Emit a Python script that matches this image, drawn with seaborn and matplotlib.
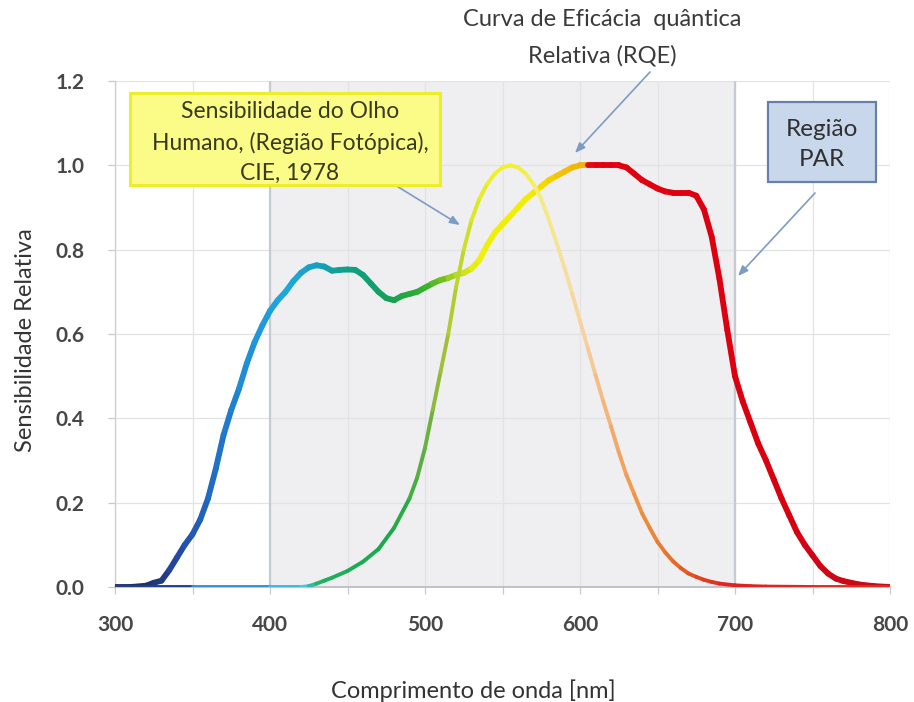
import numpy as np
import matplotlib
matplotlib.use("Agg")
import matplotlib.pyplot as plt
import seaborn as sns
from matplotlib.collections import LineCollection
from matplotlib.colors import LinearSegmentedColormap, Normalize
from matplotlib.patches import FancyBboxPatch

# --- data -----------------------------------------------------------------
# Relative quantum efficiency (RQE) of photosynthesis
rqe_nm = [300, 310, 320, 325, 330, 335, 340, 345, 350, 355, 360, 365, 370, 375,
          380, 385, 390, 395, 400, 405, 410, 415, 420, 425, 430, 435, 440, 445,
          450, 455, 460, 465, 470, 475, 480, 485, 490, 495, 500, 505, 510, 515,
          520, 525, 530, 535, 540, 545, 550, 555, 560, 565, 570, 575, 580, 585,
          590, 595, 600, 605, 610, 615, 620, 625, 630, 635, 640, 645, 650, 655,
          660, 665, 670, 675, 680, 685, 690, 695, 700, 705, 710, 715, 720, 725,
          730, 735, 740, 745, 750, 755, 760, 765, 770, 775, 780, 790, 800]
rqe_val = [0.0, 0.0, 0.003, 0.01, 0.015, 0.04, 0.07, 0.10, 0.125, 0.16, 0.21, 0.28,
           0.36, 0.42, 0.47, 0.53, 0.58, 0.62, 0.655, 0.68, 0.70, 0.725, 0.745,
           0.758, 0.763, 0.76, 0.75, 0.752, 0.753, 0.752, 0.74, 0.72, 0.70, 0.685,
           0.68, 0.69, 0.695, 0.70, 0.71, 0.72, 0.728, 0.733, 0.74, 0.745, 0.755,
           0.775, 0.81, 0.84, 0.86, 0.88, 0.90, 0.92, 0.935, 0.95, 0.965, 0.975,
           0.985, 0.995, 1.0, 1.0, 1.0, 1.0, 1.0, 1.0, 0.995, 0.98, 0.965, 0.955,
           0.945, 0.938, 0.935, 0.935, 0.935, 0.928, 0.895, 0.83, 0.73, 0.61, 0.50,
           0.44, 0.39, 0.34, 0.30, 0.255, 0.21, 0.17, 0.13, 0.10, 0.075, 0.05,
           0.032, 0.02, 0.014, 0.01, 0.006, 0.002, 0.0]

# Photopic sensitivity of the human eye (CIE 1978)
eye_nm = [300, 350, 400, 420, 425, 430, 435, 440, 450, 460, 470, 480, 490, 495,
          500, 505, 510, 515, 520, 525, 530, 535, 540, 545, 550, 555, 560, 565,
          570, 575, 580, 585, 590, 595, 600, 605, 610, 615, 620, 625, 630, 635,
          640, 645, 650, 655, 660, 665, 670, 675, 680, 685, 690, 700, 710, 720,
          750, 800]
eye_val = [0.0, 0.0, 0.0, 0.0, 0.002, 0.008, 0.015, 0.022, 0.038, 0.06, 0.09, 0.14,
           0.21, 0.26, 0.33, 0.42, 0.51, 0.60, 0.71, 0.80, 0.87, 0.92, 0.955, 0.98,
           0.995, 1.0, 0.995, 0.98, 0.955, 0.92, 0.87, 0.815, 0.757, 0.695, 0.631,
           0.567, 0.503, 0.44, 0.381, 0.32, 0.265, 0.22, 0.175, 0.14, 0.107, 0.082,
           0.061, 0.045, 0.032, 0.024, 0.017, 0.012, 0.008, 0.004, 0.002, 0.001,
           0.0, 0.0]

x_ticks = [300, 400, 500, 600, 700, 800]
y_ticks = [0.0, 0.2, 0.4, 0.6, 0.8, 1.0, 1.2]
par_range = (400, 700)

# --- colour ramps along the wavelength axis -------------------------------
rqe_stops = [(300, "#1a2a55"), (325, "#1e3570"), (340, "#2448a8"), (360, "#2068c0"),
             (385, "#1f90d8"), (410, "#20a8e0"), (430, "#18a0c0"), (445, "#10a090"),
             (465, "#10a070"), (480, "#18a050"), (500, "#30b030"), (512, "#70c020"),
             (522, "#b8dc20"), (535, "#eef010"), (570, "#f4ec00"), (585, "#f4c800"),
             (604, "#f0b010"), (608, "#e40010"), (740, "#d80010"), (800, "#c0101a")]
eye_stops = [(300, "#1a2a55"), (330, "#24449c"), (350, "#2f78c0"), (400, "#3aa8dc"),
             (422, "#40c8e8"), (432, "#20b060"), (480, "#18a848"), (500, "#60b040"),
             (510, "#9cbc38"), (525, "#c8dc28"), (540, "#eef020"), (560, "#f4f030"),
             (575, "#f4ec80"), (590, "#f6dfa0"), (605, "#f7cfa0"), (620, "#f4b070"),
             (640, "#ee9040"), (660, "#e87028"), (680, "#e04020"), (700, "#e02020"),
             (800, "#e03020")]


def ramp(stops):
    lo, hi = stops[0][0], stops[-1][0]
    return LinearSegmentedColormap.from_list(
        "ramp", [((w - lo) / (hi - lo), c) for w, c in stops]), Normalize(lo, hi)


def gradient_line(ax, x, y, stops, lw, z):
    cmap, norm = ramp(stops)
    pts = np.column_stack([x, y]).reshape(-1, 1, 2)
    segs = np.concatenate([pts[:-1], pts[1:]], axis=1)
    mids = (np.asarray(x[:-1]) + np.asarray(x[1:])) / 2.0
    lc = LineCollection(segs, colors=cmap(norm(mids)), linewidths=lw,
                        capstyle="round", joinstyle="round", zorder=z)
    ax.add_collection(lc)


# --- figure ---------------------------------------------------------------
sns.set_theme(style="whitegrid")
plt.rcParams["font.family"] = ["Lato", "DejaVu Sans"]

W, H = 914, 702
fig = plt.figure(figsize=(W / 100, H / 100), dpi=100)
ax = fig.add_axes([115 / W, 1 - 587 / H, 775 / W, 506 / H])
ax.set_facecolor("white")

ax.set_xlim(300, 800)
ax.set_ylim(0, 1.2)
ax.set_xticks(x_ticks)
ax.set_xticks(np.arange(350, 800, 100), minor=True)
ax.set_yticks(y_ticks)
ax.set_xticklabels([str(v) for v in x_ticks])
ax.set_yticklabels([f"{v:.1f}" for v in y_ticks])

ax.set_axisbelow(True)
ax.grid(True, which="both", color="#e3e3e6", linewidth=0.9)
ax.tick_params(axis="both", which="both", direction="out", length=5, width=0.9,
               color="#c8c8cc", labelsize=15, labelcolor="#474747", bottom=True, left=True)
ax.tick_params(axis="x", pad=15)
ax.tick_params(axis="y", pad=17)
for lab in ax.get_xticklabels() + ax.get_yticklabels():
    lab.set_fontweight("bold")

for side in ("top", "right"):
    ax.spines[side].set_visible(False)
ax.spines["left"].set_color("#cfcfd4")
ax.spines["bottom"].set_color("#b8b8c0")
ax.spines["left"].set_linewidth(1.0)
ax.spines["bottom"].set_linewidth(1.2)

# PAR band
ax.axvspan(*par_range, color="#efeff1", zorder=0.2, linewidth=0)
for xv in par_range:
    ax.axvline(xv, color="#c6cad2", linewidth=1.6, zorder=0.6)

# curves
gradient_line(ax, rqe_nm, rqe_val, rqe_stops, 4.2, 3)
gradient_line(ax, eye_nm, eye_val, eye_stops, 2.8, 4)

ax.set_xlabel("Comprimento de onda [nm]", fontsize=17, color="#333333")
ax.set_ylabel("Sensibilidade Relativa", fontsize=17, color="#333333")
ax.xaxis.set_label_coords(0.462, -0.204)
ax.yaxis.set_label_coords(-0.116, 0.488)
ax.xaxis.label.set_va("center")
ax.yaxis.label.set_va("center")


def fx(px, py):
    return px / W, 1 - py / H


# annotation boxes
yellow = FancyBboxPatch(fx(130, 185), 310 / W, 92 / H, boxstyle="square,pad=0",
                        transform=fig.transFigure, facecolor="#fbfb88",
                        edgecolor="#eded2a", linewidth=2.2, zorder=5)
fig.add_artist(yellow)
for txt, yy in [("Sensibilidade do Olho", 112), ("Humano, (Região Fotópica),", 143),
                ("CIE, 1978", 173)]:
    fig.text(*fx(290, yy), txt, ha="center", va="center", fontsize=16.5,
             color="#3a3a20", zorder=6)

par_box = FancyBboxPatch(fx(768, 182), 108 / W, 80 / H, boxstyle="square,pad=0",
                         transform=fig.transFigure, facecolor="#c8d7ec",
                         edgecolor="#6680aa", linewidth=1.6, zorder=5)
fig.add_artist(par_box)
for txt, yy in [("Região", 129), ("PAR", 160)]:
    fig.text(*fx(822, yy), txt, ha="center", va="center", fontsize=17.5,
             color="#303030", zorder=6)

for txt, yy in [("Curva de Eficácia  quântica", 20), ("Relativa (RQE)", 56)]:
    fig.text(*fx(602, yy), txt, ha="center", va="center", fontsize=17,
             color="#3a3a3a")

arrow_kw = dict(arrowstyle="-|>,head_length=0.5,head_width=0.2", color="#7d9cc4",
                linewidth=1.2, shrinkA=0, shrinkB=0)
for start, end in [((395, 185), (460, 225)), ((650, 72), (575, 153)),
                   ((815, 193), (738, 276))]:
    ax.annotate("", xy=fx(*end), xytext=fx(*start), xycoords="figure fraction",
                textcoords="figure fraction", arrowprops=arrow_kw, zorder=7,
                annotation_clip=False)

fig.savefig("out.png", dpi=100)
